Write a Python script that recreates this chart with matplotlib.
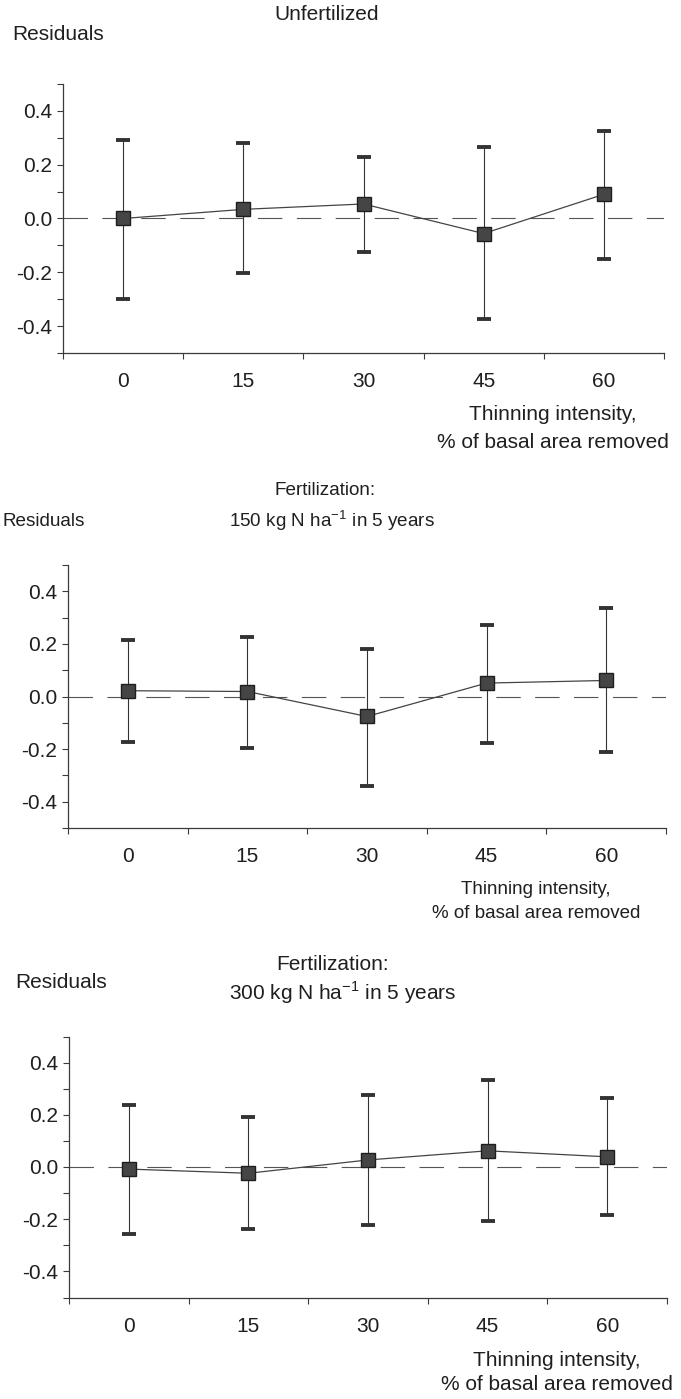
import matplotlib
matplotlib.use("Agg")
import matplotlib.pyplot as plt
import numpy as np

# ========= DATA =========
THINNING = ["0", "15", "30", "45", "60"]

UNFERT_MEAN = [0.000, 0.034, 0.054, -0.056, 0.090]
UNFERT_UPPER = [0.290, 0.279, 0.230, 0.265, 0.326]
UNFERT_LOWER = [-0.298, -0.204, -0.123, -0.375, -0.149]

N150_MEAN = [0.022, 0.019, -0.076, 0.051, 0.061]
N150_UPPER = [0.215, 0.226, 0.179, 0.272, 0.335]
N150_LOWER = [-0.172, -0.196, -0.342, -0.178, -0.211]

N300_MEAN = [-0.008, -0.024, 0.027, 0.062, 0.039]
N300_UPPER = [0.237, 0.192, 0.276, 0.334, 0.266]
N300_LOWER = [-0.255, -0.237, -0.222, -0.205, -0.183]
# ========================

W, H = 681, 1399
INK = "#1f1f1f"

plt.rcParams["font.family"] = ["Liberation Sans", "DejaVu Sans"]
plt.rcParams["axes.unicode_minus"] = False


def px_text(fig, x, y, s, size, ha="left"):
    # place text by pixel position (origin top-left)
    fig.text(x / W, 1 - y / H, s, fontsize=size, ha=ha, va="center", color=INK)


def panel(fig, rect, mean, lower, upper):
    ax = fig.add_axes(rect)
    x = np.arange(len(THINNING))
    mean = np.array(mean)
    yerr = [mean - np.array(lower), np.array(upper) - mean]

    ax.axhline(0, color="#555555", lw=0.8, dashes=(22, 13), zorder=1)
    ax.errorbar(x, mean, yerr=yerr, fmt="none", ecolor="#333333", elinewidth=0.8,
                capsize=5.3, capthick=2.8, zorder=2)
    ax.plot(x, mean, color="#444444", lw=0.9, zorder=3)
    ax.plot(x, mean, ls="none", marker="s", markersize=9.5,
            markerfacecolor="#454545", markeredgecolor="#1e1e1e", markeredgewidth=1.0, zorder=4)

    ax.set_xlim(-0.5, len(THINNING) - 0.5)
    ax.set_ylim(-0.5, 0.5)

    for side in ("top", "right"):
        ax.spines[side].set_visible(False)
    for side in ("left", "bottom"):
        ax.spines[side].set_color("#3a3a3a")
        ax.spines[side].set_linewidth(0.9)

    # category boundaries get tick marks, labels sit between them
    ax.set_xticks(np.arange(-0.5, len(THINNING)))
    ax.set_xticklabels([])
    ax.set_xticks(x, minor=True)
    ax.set_xticklabels(THINNING, minor=True)
    ax.tick_params(axis="x", which="major", direction="out", length=4, width=0.8, color="#3a3a3a")
    ax.tick_params(axis="x", which="minor", length=0, pad=14, labelsize=15, labelcolor=INK)

    ax.set_yticks([-0.4, -0.2, 0.0, 0.2, 0.4])
    ax.set_yticklabels([f"{v:.1f}" for v in [-0.4, -0.2, 0.0, 0.2, 0.4]])
    ax.set_yticks([-0.5, -0.3, -0.1, 0.1, 0.3, 0.5], minor=True)
    ax.tick_params(axis="y", which="both", direction="out", length=4, width=0.8,
                   color="#3a3a3a", pad=4, labelsize=15, labelcolor=INK)
    return ax


def main():
    fig = plt.figure(figsize=(W / 100, H / 100), dpi=100)

    # --- unfertilized ---
    panel(fig, [63 / W, 1 - 353 / H, 601 / W, 269 / H], UNFERT_MEAN, UNFERT_LOWER, UNFERT_UPPER)
    px_text(fig, 327, 15, "Unfertilized", 15, ha="center")
    px_text(fig, 12, 35, "Residuals", 15)
    px_text(fig, 553, 415, "Thinning intensity,", 15, ha="center")
    px_text(fig, 553, 442, "% of basal area removed", 15, ha="center")

    # --- 150 kg N ---
    panel(fig, [68 / W, 1 - 828 / H, 598 / W, 263 / H], N150_MEAN, N150_LOWER, N150_UPPER)
    px_text(fig, 325, 490, "Fertilization:", 13.6, ha="center")
    px_text(fig, 332, 521, r"150 kg N ha$^{\mathregular{-1}}$ in 5 years", 13.6, ha="center")
    px_text(fig, 3, 522, "Residuals", 13.6)
    px_text(fig, 536, 889, "Thinning intensity,", 13.5, ha="center")
    px_text(fig, 536, 913, "% of basal area removed", 13.5, ha="center")

    # --- 300 kg N ---
    panel(fig, [69 / W, 1 - 1297.5 / H, 598 / W, 261 / H], N300_MEAN, N300_LOWER, N300_UPPER)
    px_text(fig, 333, 964, "Fertilization:", 15, ha="center")
    px_text(fig, 343, 993, r"300 kg N ha$^{\mathregular{-1}}$ in 5 years", 15, ha="center")
    px_text(fig, 15, 983, "Residuals", 15)
    px_text(fig, 557, 1361, "Thinning intensity,", 15, ha="center")
    px_text(fig, 557, 1385, "% of basal area removed", 15, ha="center")

    fig.savefig("out.png", dpi=100, facecolor="white")


if __name__ == "__main__":
    main()
